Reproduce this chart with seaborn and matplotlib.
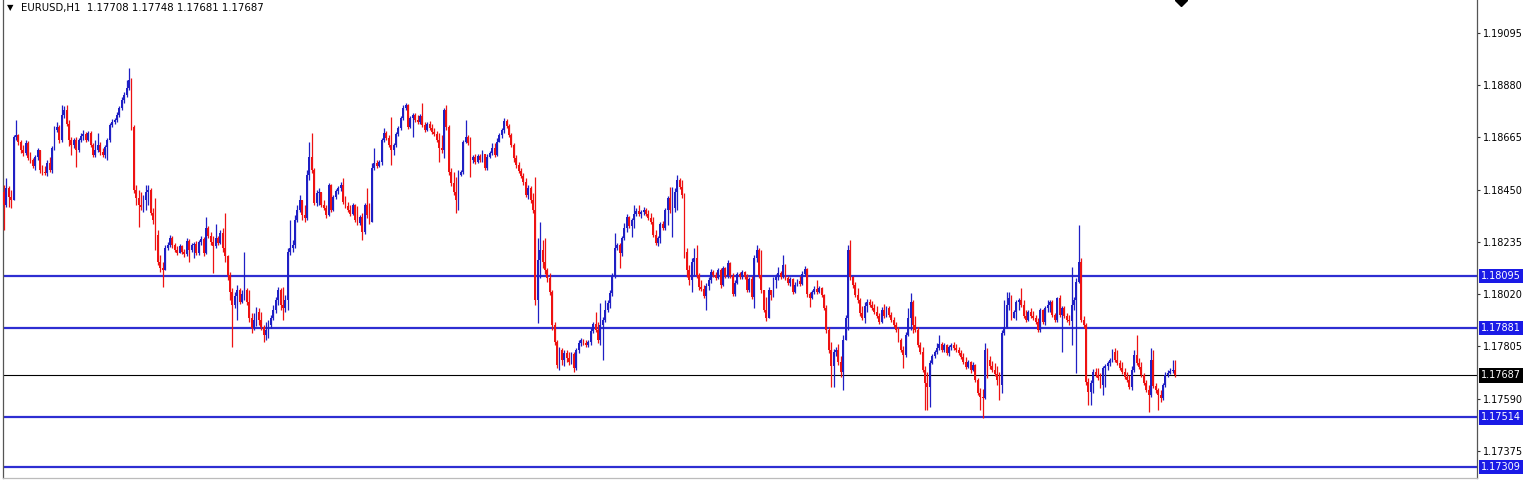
import numpy as np
import pandas as pd
import matplotlib
matplotlib.use("Agg")
import matplotlib.pyplot as plt
import matplotlib.transforms as mtransforms
import seaborn as sns

# ---------------- data (EURUSD H1) ----------------
symbol = "EURUSD,H1"
first_open = 1.18441

closes = [
    # segment 1
    1.18387, 1.18457, 1.18420, 1.18408, 1.18667, 1.18675, 1.18646, 1.18614, 1.18601, 1.18642,
    1.18581, 1.18572, 1.18548, 1.18585, 1.18614, 1.18531, 1.18523, 1.18519, 1.18560, 1.18531,
    1.18622, 1.18696, 1.18708, 1.18655, 1.18758, 1.18778, 1.18721, 1.18655, 1.18634, 1.18655,
    1.18614, 1.18655, 1.18671, 1.18679, 1.18655, 1.18684, 1.18634, 1.18593, 1.18614, 1.18634,
    1.18605, 1.18593, 1.18626, 1.18655, 1.18716, 1.18729, 1.18737, 1.18758, 1.18786, 1.18819,
    1.18840, 1.18869, 1.18902, 1.18708, 1.18449, 1.18416, 1.18387, 1.18379, 1.18408, 1.18441,
    # segment 2
    1.18449, 1.18354, 1.18326, 1.18264, 1.18153, 1.18128, 1.18120, 1.18210, 1.18223, 1.18251,
    1.18223, 1.18202, 1.18190, 1.18218, 1.18194, 1.18186, 1.18239, 1.18202, 1.18223, 1.18227,
    1.18190, 1.18235, 1.18247, 1.18190, 1.18293, 1.18260, 1.18235, 1.18218, 1.18251, 1.18231,
    1.18272, 1.18210, 1.18177, 1.18099, 1.18029, 1.17976, 1.18013, 1.18038, 1.17988, 1.18021,
    1.18038, 1.17988, 1.17922, 1.17881, 1.17914, 1.17947, 1.17914, 1.17885, 1.17852, 1.17873,
    1.17893, 1.17922, 1.17955, 1.17996, 1.18038, 1.17976, 1.17963, 1.17996, 1.18194, 1.18210,
    # segment 3
    1.18223, 1.18326, 1.18367, 1.18408, 1.18346, 1.18334, 1.18511, 1.18585, 1.18531, 1.18396,
    1.18437, 1.18441, 1.18387, 1.18375, 1.18346, 1.18470, 1.18367, 1.18420, 1.18445, 1.18457,
    1.18470, 1.18400, 1.18383, 1.18367, 1.18350, 1.18387, 1.18326, 1.18313, 1.18338, 1.18276,
    1.18387, 1.18346, 1.18317, 1.18540, 1.18560, 1.18548, 1.18564, 1.18655, 1.18684, 1.18663,
    1.18634, 1.18614, 1.18634, 1.18679, 1.18704, 1.18745, 1.18786, 1.18799, 1.18708, 1.18745,
    1.18758, 1.18737, 1.18729, 1.18753, 1.18716, 1.18696, 1.18721, 1.18704, 1.18688, 1.18679,
    1.18655, 1.18622, 1.18614, 1.18778, 1.18708, 1.18523, 1.18478, 1.18441, 1.18408, 1.18511,
    1.18523, 1.18646, 1.18667, 1.18642, 1.18572, 1.18585, 1.18564, 1.18589, 1.18572, 1.18597,
    1.18540, 1.18585, 1.18601, 1.18622, 1.18593, 1.18646, 1.18675, 1.18696, 1.18733, 1.18712,
    1.18675, 1.18634, 1.18581, 1.18552, 1.18527, 1.18507, 1.18482, 1.18428, 1.18457,
    # segment 4
    1.18408, 1.18367, 1.17996, 1.18161, 1.18202, 1.18153, 1.18120, 1.18087, 1.18029, 1.17893,
    1.17824, 1.17729, 1.17791, 1.17749, 1.17778, 1.17758, 1.17741, 1.17774, 1.17717, 1.17791,
    1.17819, 1.17832, 1.17819, 1.17811, 1.17824, 1.17869, 1.17898, 1.17873, 1.17832, 1.17893,
    1.17914, 1.17955, 1.17984, 1.18025, 1.18095, 1.18210, 1.18223, 1.18190, 1.18251, 1.18293,
    1.18338, 1.18301, 1.18326, 1.18350, 1.18363, 1.18350, 1.18358, 1.18367, 1.18350, 1.18334,
    1.18317, 1.18264, 1.18231, 1.18251, 1.18309, 1.18293, 1.18367, 1.18416, 1.18367, 1.18375,
    1.18441, 1.18490, 1.18461, 1.18428, 1.18194, 1.18120, 1.18079, 1.18153, 1.18169, 1.18099,
    1.18050, 1.18042, 1.18013, 1.18054, 1.18079, 1.18112, 1.18099, 1.18087, 1.18120, 1.18058,
    1.18128, 1.18095, 1.18149, 1.18095, 1.18021, 1.18066, 1.18103, 1.18091, 1.18112, 1.18091,
    1.18038, 1.18083, 1.18009, 1.18169, 1.18202, 1.18099, 1.18038,
    # segment 5
    1.17955, 1.17922, 1.18038, 1.18017, 1.18079, 1.18091, 1.18108, 1.18091, 1.18140, 1.18087,
    1.18066, 1.18083, 1.18029, 1.18058, 1.18075, 1.18062, 1.18103, 1.18124, 1.18021, 1.18004,
    1.18029, 1.18042, 1.18029, 1.18046, 1.18017, 1.17963, 1.17873, 1.17791, 1.17725, 1.17782,
    1.17791, 1.17741, 1.17700, 1.17832, 1.17922, 1.18202, 1.18091, 1.18058, 1.18017, 1.17996,
    1.17943, 1.17922, 1.17972, 1.17988, 1.17976, 1.17963, 1.17947, 1.17930, 1.17906, 1.17955,
    1.17930, 1.17963, 1.17934, 1.17914, 1.17893, 1.17873, 1.17832, 1.17791, 1.17770, 1.17852,
    1.17922, 1.17988, 1.17893, 1.17873, 1.17811, 1.17782, 1.17708, 1.17655, 1.17638, 1.17737,
    1.17766, 1.17782, 1.17799, 1.17815, 1.17791, 1.17811, 1.17778, 1.17803, 1.17811, 1.17799,
    1.17791, 1.17778, 1.17762, 1.17741, 1.17721, 1.17741, 1.17708, 1.17729, 1.17667, 1.17614,
    1.17597, 1.17593, 1.17791, 1.17749, 1.17725, 1.17708, 1.17692, 1.17667,
    # segment 6
    1.17647, 1.17861, 1.17885, 1.17976, 1.18004, 1.17922, 1.17947, 1.17988, 1.17996, 1.17976,
    1.17930, 1.17914, 1.17947, 1.17930, 1.17922, 1.17906, 1.17873, 1.17955, 1.17906, 1.17963,
    1.17976, 1.17988, 1.17934, 1.17914, 1.18004, 1.17934, 1.17963, 1.17930, 1.17914, 1.17910,
    1.17976, 1.17996, 1.18070, 1.18153, 1.17914, 1.17893, 1.17659, 1.17618, 1.17655, 1.17700,
    1.17688, 1.17675, 1.17647, 1.17717, 1.17725, 1.17737, 1.17749, 1.17782, 1.17749, 1.17737,
    1.17717, 1.17700, 1.17679, 1.17667, 1.17638, 1.17708, 1.17770, 1.17737, 1.17721, 1.17688,
    1.17655, 1.17626, 1.17606, 1.17749, 1.17642, 1.17626, 1.17606, 1.17593, 1.17647, 1.17688,
    1.17696, 1.17704, 1.17708, 1.17687,
]

highs = [
    1.18470, 1.18498, 1.18465, 1.18449, 1.18675, 1.18737, 1.18679, 1.18655, 1.18634, 1.18655,
    1.18651, 1.18605, 1.18581, 1.18593, 1.18622, 1.18614, 1.18552, 1.18548, 1.18572, 1.18585,
    1.18630, 1.18712, 1.18729, 1.18716, 1.18799, 1.18795, 1.18799, 1.18737, 1.18667, 1.18663,
    1.18667, 1.18663, 1.18684, 1.18696, 1.18688, 1.18692, 1.18692, 1.18642, 1.18655, 1.18684,
    1.18646, 1.18622, 1.18634, 1.18663, 1.18725, 1.18741, 1.18745, 1.18770, 1.18795, 1.18832,
    1.18852, 1.18902, 1.18951, 1.18910, 1.18716, 1.18470, 1.18449, 1.18441, 1.18428, 1.18470,
    1.18470, 1.18457, 1.18375, 1.18416, 1.18284, 1.18182, 1.18153, 1.18223, 1.18235, 1.18264,
    1.18260, 1.18231, 1.18218, 1.18227, 1.18223, 1.18206, 1.18251, 1.18247, 1.18231, 1.18235,
    1.18239, 1.18243, 1.18260, 1.18256, 1.18338, 1.18301, 1.18276, 1.18260, 1.18309, 1.18260,
    1.18284, 1.18293, 1.18354, 1.18182, 1.18112, 1.18046, 1.18029, 1.18058, 1.18046, 1.18038,
    1.18194, 1.18046, 1.18038, 1.17943, 1.17943, 1.17968, 1.17963, 1.17947, 1.17893, 1.17906,
    1.17914, 1.17934, 1.17976, 1.18009, 1.18050, 1.18046, 1.18050, 1.18017, 1.18210, 1.18326,
    1.18243, 1.18346, 1.18387, 1.18428, 1.18408, 1.18387, 1.18531, 1.18646, 1.18684, 1.18540,
    1.18449, 1.18457, 1.18428, 1.18408, 1.18387, 1.18478, 1.18474, 1.18428, 1.18453, 1.18465,
    1.18482, 1.18498, 1.18424, 1.18400, 1.18387, 1.18396, 1.18391, 1.18383, 1.18346, 1.18354,
    1.18396, 1.18457, 1.18396, 1.18560, 1.18622, 1.18572, 1.18572, 1.18663, 1.18704, 1.18692,
    1.18675, 1.18749, 1.18642, 1.18688, 1.18712, 1.18753, 1.18799, 1.18807, 1.18803, 1.18753,
    1.18766, 1.18766, 1.18758, 1.18762, 1.18807, 1.18729, 1.18729, 1.18733, 1.18721, 1.18704,
    1.18692, 1.18684, 1.18675, 1.18786, 1.18799, 1.18716, 1.18540, 1.18523, 1.18502, 1.18531,
    1.18531, 1.18655, 1.18737, 1.18675, 1.18667, 1.18593, 1.18597, 1.18597, 1.18597, 1.18614,
    1.18597, 1.18597, 1.18609, 1.18642, 1.18642, 1.18663, 1.18684, 1.18704, 1.18745, 1.18741,
    1.18721, 1.18684, 1.18642, 1.18593, 1.18564, 1.18540, 1.18519, 1.18498, 1.18470,
    1.18465, 1.18437, 1.18502, 1.18251, 1.18317, 1.18243, 1.18251, 1.18128, 1.18108, 1.18038,
    1.17906, 1.17832, 1.17803, 1.17799, 1.17791, 1.17791, 1.17782, 1.17782, 1.17782, 1.17799,
    1.17832, 1.17840, 1.17836, 1.17832, 1.17832, 1.17881, 1.17906, 1.17947, 1.17906, 1.17984,
    1.17926, 1.17996, 1.17996, 1.18038, 1.18108, 1.18272, 1.18231, 1.18231, 1.18260, 1.18313,
    1.18350, 1.18342, 1.18334, 1.18387, 1.18375, 1.18387, 1.18367, 1.18379, 1.18375, 1.18367,
    1.18354, 1.18338, 1.18284, 1.18260, 1.18317, 1.18321, 1.18375, 1.18424, 1.18461, 1.18461,
    1.18457, 1.18511, 1.18498, 1.18490, 1.18437, 1.18210, 1.18140, 1.18169, 1.18210, 1.18223,
    1.18108, 1.18079, 1.18058, 1.18066, 1.18091, 1.18124, 1.18120, 1.18112, 1.18128, 1.18128,
    1.18136, 1.18132, 1.18161, 1.18153, 1.18108, 1.18079, 1.18112, 1.18112, 1.18120, 1.18116,
    1.18103, 1.18091, 1.18095, 1.18182, 1.18223, 1.18210, 1.18202,
    1.18038, 1.18009, 1.18050, 1.18029, 1.18091, 1.18103, 1.18132, 1.18116, 1.18182, 1.18144,
    1.18095, 1.18091, 1.18087, 1.18070, 1.18083, 1.18095, 1.18116, 1.18136, 1.18128, 1.18029,
    1.18038, 1.18054, 1.18079, 1.18054, 1.18050, 1.18021, 1.17976, 1.17885, 1.17824, 1.17795,
    1.17803, 1.17815, 1.17766, 1.17852, 1.17934, 1.18223, 1.18243, 1.18095, 1.18070, 1.18046,
    1.18004, 1.17972, 1.17988, 1.18000, 1.18000, 1.17992, 1.17980, 1.17972, 1.17943, 1.17968,
    1.17980, 1.17972, 1.17972, 1.17947, 1.17926, 1.17906, 1.17885, 1.17840, 1.17807, 1.17865,
    1.17963, 1.18025, 1.17996, 1.17930, 1.17885, 1.17824, 1.17803, 1.17725, 1.17700, 1.17749,
    1.17774, 1.17791, 1.17819, 1.17852, 1.17824, 1.17819, 1.17815, 1.17811, 1.17819, 1.17824,
    1.17815, 1.17803, 1.17791, 1.17778, 1.17762, 1.17749, 1.17745, 1.17741, 1.17733, 1.17675,
    1.17634, 1.17630, 1.17819, 1.17799, 1.17766, 1.17745, 1.17737, 1.17725,
    1.17700, 1.17873, 1.17996, 1.18029, 1.18029, 1.18017, 1.17955, 1.17996, 1.18004, 1.18046,
    1.17996, 1.17955, 1.17955, 1.17963, 1.17951, 1.17934, 1.17922, 1.17963, 1.17959, 1.17972,
    1.17996, 1.17996, 1.17996, 1.17943, 1.18009, 1.18017, 1.17972, 1.17972, 1.17943, 1.17934,
    1.18132, 1.18009, 1.18087, 1.18305, 1.18169, 1.17930, 1.17902, 1.17675, 1.17667, 1.17712,
    1.17717, 1.17717, 1.17696, 1.17725, 1.17733, 1.17745, 1.17758, 1.17795, 1.17799, 1.17791,
    1.17749, 1.17741, 1.17717, 1.17700, 1.17688, 1.17725, 1.17791, 1.17852, 1.17758, 1.17741,
    1.17696, 1.17667, 1.17647, 1.17799, 1.17791, 1.17655, 1.17634, 1.17626, 1.17655, 1.17700,
    1.17708, 1.17717, 1.17749, 1.17748,
]

lows = [
    1.18284, 1.18379, 1.18379, 1.18375, 1.18408, 1.18655, 1.18634, 1.18601, 1.18589, 1.18593,
    1.18572, 1.18560, 1.18540, 1.18531, 1.18572, 1.18519, 1.18511, 1.18511, 1.18507, 1.18523,
    1.18519, 1.18614, 1.18688, 1.18642, 1.18646, 1.18745, 1.18712, 1.18630, 1.18593, 1.18622,
    1.18544, 1.18605, 1.18646, 1.18655, 1.18646, 1.18651, 1.18626, 1.18585, 1.18585, 1.18605,
    1.18593, 1.18585, 1.18581, 1.18572, 1.18646, 1.18708, 1.18721, 1.18729, 1.18749, 1.18778,
    1.18807, 1.18832, 1.18861, 1.18696, 1.18437, 1.18387, 1.18297, 1.18367, 1.18358, 1.18367,
    1.18387, 1.18346, 1.18309, 1.18202, 1.18140, 1.18112, 1.18050, 1.18120, 1.18202, 1.18214,
    1.18210, 1.18194, 1.18182, 1.18194, 1.18186, 1.18173, 1.18177, 1.18153, 1.18194, 1.18169,
    1.18182, 1.18182, 1.18223, 1.18177, 1.18186, 1.18251, 1.18223, 1.18108, 1.18210, 1.18223,
    1.18227, 1.18194, 1.18153, 1.18079, 1.17996, 1.17803, 1.17963, 1.17914, 1.17980, 1.17984,
    1.17996, 1.17976, 1.17906, 1.17861, 1.17873, 1.17889, 1.17893, 1.17873, 1.17824, 1.17832,
    1.17840, 1.17881, 1.17914, 1.17943, 1.17976, 1.17955, 1.17914, 1.17947, 1.17955, 1.18182,
    1.18194, 1.18210, 1.18317, 1.18358, 1.18326, 1.18317, 1.18326, 1.18490, 1.18519, 1.18387,
    1.18383, 1.18387, 1.18379, 1.18367, 1.18334, 1.18342, 1.18358, 1.18363, 1.18412, 1.18433,
    1.18445, 1.18391, 1.18375, 1.18358, 1.18342, 1.18346, 1.18317, 1.18305, 1.18305, 1.18243,
    1.18268, 1.18334, 1.18309, 1.18317, 1.18531, 1.18540, 1.18544, 1.18552, 1.18646, 1.18655,
    1.18626, 1.18552, 1.18593, 1.18626, 1.18671, 1.18696, 1.18737, 1.18778, 1.18700, 1.18704,
    1.18667, 1.18729, 1.18721, 1.18721, 1.18708, 1.18688, 1.18692, 1.18696, 1.18679, 1.18671,
    1.18646, 1.18564, 1.18601, 1.18581, 1.18696, 1.18511, 1.18465, 1.18428, 1.18354, 1.18367,
    1.18507, 1.18515, 1.18642, 1.18634, 1.18502, 1.18560, 1.18556, 1.18560, 1.18564, 1.18564,
    1.18531, 1.18531, 1.18581, 1.18593, 1.18585, 1.18589, 1.18646, 1.18663, 1.18684, 1.18704,
    1.18667, 1.18626, 1.18564, 1.18540, 1.18519, 1.18498, 1.18470, 1.18420, 1.18412,
    1.18396, 1.18354, 1.17976, 1.17902, 1.18087, 1.18128, 1.18103, 1.18070, 1.18017, 1.17873,
    1.17811, 1.17717, 1.17708, 1.17729, 1.17725, 1.17741, 1.17729, 1.17733, 1.17700, 1.17708,
    1.17778, 1.17807, 1.17811, 1.17803, 1.17803, 1.17811, 1.17861, 1.17865, 1.17819, 1.17811,
    1.17749, 1.17906, 1.17947, 1.17963, 1.18013, 1.18087, 1.18202, 1.18128, 1.18177, 1.18243,
    1.18276, 1.18293, 1.18256, 1.18293, 1.18342, 1.18342, 1.18334, 1.18346, 1.18342, 1.18326,
    1.18309, 1.18256, 1.18223, 1.18218, 1.18231, 1.18284, 1.18284, 1.18305, 1.18354, 1.18256,
    1.18358, 1.18367, 1.18453, 1.18416, 1.18169, 1.18091, 1.18058, 1.18029, 1.18099, 1.18087,
    1.18038, 1.18033, 1.18004, 1.17955, 1.18038, 1.18066, 1.18091, 1.18079, 1.18083, 1.18046,
    1.18054, 1.18087, 1.18087, 1.18087, 1.18013, 1.18013, 1.18062, 1.18083, 1.18083, 1.18083,
    1.18029, 1.18029, 1.18000, 1.17963, 1.18153, 1.18087, 1.18025,
    1.17947, 1.17910, 1.17922, 1.17996, 1.18009, 1.18046, 1.18079, 1.18083, 1.18087, 1.18079,
    1.18058, 1.18054, 1.18021, 1.18025, 1.18054, 1.18054, 1.18058, 1.18095, 1.18009, 1.17968,
    1.18000, 1.18021, 1.18021, 1.18025, 1.18009, 1.17955, 1.17861, 1.17778, 1.17638, 1.17638,
    1.17766, 1.17729, 1.17679, 1.17626, 1.17832, 1.17873, 1.18079, 1.18046, 1.18009, 1.17984,
    1.17930, 1.17914, 1.17902, 1.17947, 1.17968, 1.17955, 1.17939, 1.17922, 1.17898, 1.17902,
    1.17922, 1.17926, 1.17926, 1.17906, 1.17885, 1.17865, 1.17824, 1.17782, 1.17717, 1.17762,
    1.17848, 1.17873, 1.17861, 1.17865, 1.17803, 1.17774, 1.17700, 1.17544, 1.17544, 1.17556,
    1.17733, 1.17758, 1.17774, 1.17791, 1.17782, 1.17782, 1.17770, 1.17766, 1.17791, 1.17791,
    1.17782, 1.17770, 1.17754, 1.17733, 1.17712, 1.17717, 1.17696, 1.17704, 1.17659, 1.17606,
    1.17544, 1.17511, 1.17589, 1.17675, 1.17712, 1.17700, 1.17684, 1.17647,
    1.17585, 1.17614, 1.17852, 1.17881, 1.17955, 1.17914, 1.17922, 1.17914, 1.17955, 1.17968,
    1.17922, 1.17906, 1.17910, 1.17922, 1.17914, 1.17898, 1.17865, 1.17865, 1.17898, 1.17893,
    1.17947, 1.17947, 1.17926, 1.17906, 1.17906, 1.17926, 1.17782, 1.17922, 1.17906, 1.17893,
    1.17811, 1.17955, 1.17696, 1.18066, 1.17906, 1.17881, 1.17647, 1.17564, 1.17564, 1.17614,
    1.17679, 1.17667, 1.17634, 1.17606, 1.17638, 1.17708, 1.17725, 1.17741, 1.17741, 1.17729,
    1.17708, 1.17692, 1.17671, 1.17659, 1.17630, 1.17626, 1.17700, 1.17729, 1.17712, 1.17679,
    1.17647, 1.17618, 1.17536, 1.17597, 1.17634, 1.17614, 1.17544, 1.17577, 1.17585, 1.17638,
    1.17679, 1.17692, 1.17696, 1.17681,
]

# horizontal levels (blue lines with blue price tags)
level_prices = [1.18095, 1.17881, 1.17514, 1.17309]
# price-scale tick labels
tick_prices = [1.19095, 1.18880, 1.18665, 1.18450, 1.18235, 1.18020, 1.17805, 1.17590, 1.17375]

# ---------------- build OHLC frame ----------------
n = min(len(closes), len(highs), len(lows))
closes, highs, lows = closes[:n], highs[:n], lows[:n]
opens = [first_open] + closes[:-1]
df = pd.DataFrame({"idx": np.arange(n), "open": opens, "high": highs,
                   "low": lows, "close": closes})
df["high"] = df[["high", "open", "close"]].max(axis=1)
df["low"] = df[["low", "open", "close"]].min(axis=1)
df["bull"] = df["close"] >= df["open"]

BULL = "#1f1fc4"
BEAR = "#ee1212"
LEVEL = "#2e2ed2"
TAG = "#1a1ae6"

# ---------------- figure ----------------
sns.set_style("white")
plt.rcParams["font.family"] = ["DejaVu Sans"]

W, H = 1536, 480
fig = plt.figure(figsize=(W / 100, H / 100), dpi=100)
fig.patch.set_facecolor("white")
ax_left, ax_right, ax_bottom, ax_top = 3, 1477, 2, 480
ax = fig.add_axes([ax_left / W, ax_bottom / H, (ax_right - ax_left) / W, (ax_top - ax_bottom) / H])
ax.set_facecolor("white")

# x layout: first candle at px 4, last at px 1175
px_first, px_last = 4, 1175
step = (px_last - px_first) / (n - 1)
ax.set_xlim((ax_left - px_first) / step, (ax_right - px_first) / step)
ax.set_ylim(1.172638, 1.192308)

colors = np.where(df["bull"], BULL, BEAR)
# wicks
ax.vlines(df["idx"], df["low"], df["high"], colors=colors, linewidth=0.9, zorder=3)
# bodies
body_h = (df["close"] - df["open"]).abs().clip(lower=0.000014)
body_b = df[["open", "close"]].min(axis=1)
ax.bar(df["idx"], body_h, bottom=body_b, width=0.78, color=colors, linewidth=0, zorder=4)

# level lines
for p in level_prices:
    ax.axhline(p, color=LEVEL, linewidth=1.6, zorder=2)
last_close = df["close"].iloc[-1]
ax.axhline(last_close, color="black", linewidth=0.8, zorder=2)

# price scale
ax.yaxis.tick_right()
ax.set_yticks(tick_prices)
ax.set_yticklabels([f"{t:.5f}" for t in tick_prices])
ax.tick_params(axis="y", direction="out", length=2.5, width=0.8, pad=2,
               labelsize=7, colors="#333333", labelcolor="black", right=True, left=False)
ax.set_xticks([])

trans = mtransforms.blended_transform_factory(ax.transAxes, ax.transData)
tag_x = 1.0 + 4.0 / (ax_right - ax_left)
for p in level_prices:
    ax.text(tag_x, p, f"{p:.5f}", transform=trans, fontsize=7, color="white",
            va="center", ha="left", zorder=6,
            bbox=dict(boxstyle="square,pad=0.25", fc=TAG, ec="none"), clip_on=False)
ax.text(tag_x, last_close, f"{last_close:.5f}", transform=trans, fontsize=7, color="white",
        va="center", ha="left", zorder=6,
        bbox=dict(boxstyle="square,pad=0.25", fc="black", ec="none"), clip_on=False)

# spines
ax.spines["top"].set_visible(False)
for s in ["left", "right", "bottom"]:
    ax.spines[s].set_color("#555555")
    ax.spines[s].set_linewidth(0.9)
ax.spines["bottom"].set_color("#bbbbbb")

# chart-shift marker at the top
mark_trans = mtransforms.blended_transform_factory(ax.transData, ax.transAxes)
ax.plot([(1181 - px_first) / step], [1.0], marker="D", markersize=6, color="black",
        transform=mark_trans, clip_on=False, zorder=7)

# header
o, h, l, c = df.iloc[-1][["open", "high", "low", "close"]]
fig.text(7 / W, 1 - 8 / H, "\u25BC", fontsize=6, va="center", ha="left", color="black")
fig.text(21 / W, 1 - 8 / H, f"{symbol}  {o:.5f} {h:.5f} {l:.5f} {c:.5f}",
         fontsize=7.3, va="center", ha="left", color="black")

fig.savefig("out.png", dpi=100, facecolor="white")
